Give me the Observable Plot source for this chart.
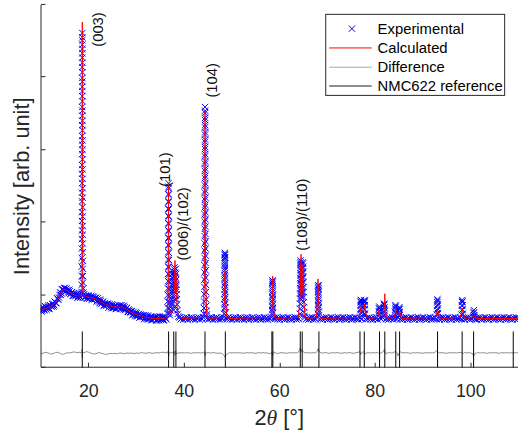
<!DOCTYPE html>
<html><head><meta charset="utf-8">
<script src="https://cdn.jsdelivr.net/npm/d3@7"></script>
<script src="https://cdn.jsdelivr.net/npm/@observablehq/plot@0.6"></script>
<style>
html,body{margin:0;padding:0;background:#fff;overflow:hidden;}
#wrap{position:relative;width:518px;height:437px;overflow:hidden;}
</style></head><body><div id="wrap"></div><script>
// ---------- data (2θ in degrees, intensity in axis units) ----------
const xTicks = [20, 40, 60, 80, 100];
const yTicks = [-1, 0, 1, 2, 3, 4];

// observed pattern: background region 10–36°
const expLowAngle = [
  [10.0,-0.175],[10.25,-0.202],[10.5,-0.178],[10.75,-0.203],[11.0,-0.16],[11.25,-0.173],[11.5,-0.137],[11.75,-0.175],[12.0,-0.138],[12.25,-0.148],[12.5,-0.108],[12.75,-0.13],[13.0,-0.095],[13.25,-0.105],[13.5,-0.04],[13.75,-0.025],[14.0,0.045],[14.25,0.035],[14.5,0.09],[14.75,0.078],[15.0,0.108],[15.25,0.065],[15.5,0.075],[15.75,0.033],[16.0,0.06],[16.25,0.03],[16.5,0.05],[16.75,-0.003],[17.0,0.02],[17.25,-0.005],[17.5,0.02],[17.75,-0.018],[18.0,0.0],[18.25,-0.028],
  [19.0,0.015],[19.25,-0.023],[19.5,-0.005],[19.75,-0.04],[20.0,-0.005],[20.25,-0.03],[20.5,-0.005],[20.75,-0.05],[21.0,-0.02],[21.25,-0.05],[21.5,-0.03],[21.75,-0.072],[22.0,-0.06],[22.25,-0.103],[22.5,-0.075],[22.75,-0.103],[23.0,-0.08],[23.25,-0.135],[23.5,-0.115],[23.75,-0.138],[24.0,-0.11],[24.25,-0.153],[24.5,-0.14],[24.75,-0.173],[25.0,-0.135],[25.25,-0.16],[25.5,-0.135],[25.75,-0.18],[26.0,-0.15],[26.25,-0.167],[26.5,-0.135],[26.75,-0.17],[27.0,-0.15],[27.25,-0.19],[27.5,-0.16],[27.75,-0.188],[28.0,-0.165],[28.25,-0.223],[28.5,-0.205],[28.75,-0.235],[29.0,-0.215],[29.25,-0.26],[29.5,-0.25],[29.75,-0.283],[30.0,-0.245],[30.25,-0.273],[30.5,-0.25],[30.75,-0.298],[31.0,-0.27],[31.25,-0.295],[31.5,-0.27],[31.75,-0.31],[32.0,-0.295],[32.25,-0.328],[32.5,-0.29],[32.75,-0.313],[33.0,-0.285],[33.25,-0.332],[33.5,-0.303],[33.75,-0.324],[34.0,-0.295],[34.25,-0.33],[34.5,-0.31],[34.75,-0.34],[35.0,-0.30],[35.25,-0.32],[35.5,-0.29],[35.75,-0.335],[36.0,-0.305],[36.25,-0.325]
];
const expLowAngleMid = [
  [10.125,-0.221],[10.375,-0.16],[10.625,-0.19],[10.875,-0.146],[11.125,-0.191],[11.375,-0.155],[11.625,-0.183],[11.875,-0.131],[12.125,-0.148],[12.375,-0.118],[12.625,-0.151],[12.875,-0.082],[13.125,-0.10],[13.375,-0.037],[13.625,-0.057],[13.875,0.01],[14.125,0.012],[14.375,0.087],[14.625,0.079],[14.875,0.103],[15.125,0.054],[15.375,0.10],[15.625,0.054],[15.875,0.081],[16.125,0.02],[16.375,0.04],[16.625,-0.004],[16.875,0.033],[17.125,0.002],[17.375,0.017],[17.625,-0.031],[17.875,0.021],[18.125,-0.014],[18.375,0.03],
  [19.125,-0.026],[19.375,0.001],[19.625,-0.037],[19.875,0.003],[20.125,-0.042],[20.375,-0.017],[20.625,-0.055],[20.875,-0.01],[21.125,-0.04],[21.375,-0.03],[21.625,-0.083],[21.875,-0.036],[22.125,-0.081],[22.375,-0.054],[22.625,-0.114],[22.875,-0.091],[23.125,-0.135],[23.375,-0.10],[23.625,-0.131],[23.875,-0.114],[24.125,-0.164],[24.375,-0.116],[24.625,-0.156],[24.875,-0.119],[25.125,-0.172],[25.375,-0.147],[25.625,-0.185],[25.875,-0.14],[26.125,-0.163],[26.375,-0.141],[26.625,-0.185],[26.875,-0.13],[27.125,-0.17],[27.375,-0.14],[27.625,-0.199],[27.875,-0.176],[28.125,-0.221],[28.375,-0.189],[28.625,-0.225],[28.875,-0.215],[29.125,-0.27],[29.375,-0.225],[29.625,-0.266],[29.875,-0.229],[30.125,-0.284],[30.375,-0.261],[30.625,-0.301],[30.875,-0.259],[31.125,-0.287],[31.375,-0.272],[31.625,-0.322],[31.875,-0.272],[32.125,-0.311],[32.375,-0.274],[32.625,-0.326],[32.875,-0.299],[33.125,-0.336],[33.375,-0.292],[33.625,-0.318],[33.875,-0.299],[34.125,-0.345],[34.375,-0.29],[34.625,-0.325],[34.875,-0.285],[35.125,-0.335],[35.375,-0.305],[35.625,-0.34],[35.875,-0.295],[36.125,-0.32]
];

// observed pattern: flat background 36–110°
const expHighAngle = [
  [39.0,-0.30],[39.25,-0.325],[39.5,-0.31],[39.75,-0.33],[40.0,-0.305],[40.25,-0.32],[40.5,-0.298],[40.75,-0.328],[41.0,-0.308],[41.25,-0.322],[41.5,-0.30],[41.75,-0.325],[42.0,-0.31],[42.25,-0.33],[42.5,-0.305],[42.75,-0.32],[43.0,-0.298],[43.25,-0.328],[43.5,-0.308],[43.75,-0.322],[44.0,-0.30],
  [44.75,-0.31],[45.0,-0.33],[45.25,-0.305],[45.5,-0.32],[45.75,-0.298],[46.0,-0.328],[46.25,-0.308],[46.5,-0.322],[46.75,-0.30],[47.0,-0.325],[47.25,-0.31],[47.5,-0.33],[47.75,-0.305],[48.0,-0.32],[48.25,-0.298],
  [48.75,-0.308],[49.0,-0.322],[49.25,-0.30],[49.5,-0.325],[49.75,-0.31],[50.0,-0.33],[50.25,-0.305],[50.5,-0.32],[50.75,-0.298],[51.0,-0.328],[51.25,-0.308],[51.5,-0.322],[51.75,-0.30],[52.0,-0.325],[52.25,-0.31],[52.5,-0.33],[52.75,-0.305],[53.0,-0.32],[53.25,-0.298],[53.5,-0.328],[53.75,-0.308],[54.0,-0.322],[54.25,-0.30],[54.5,-0.325],[54.75,-0.31],[55.0,-0.33],[55.25,-0.305],[55.5,-0.32],[55.75,-0.298],[56.0,-0.328],[56.25,-0.308],[56.5,-0.322],[56.75,-0.30],[57.0,-0.325],[57.25,-0.31],[57.5,-0.33],[57.75,-0.305],[58.0,-0.32],[58.25,-0.298],
  [58.75,-0.308],[59.0,-0.322],[59.25,-0.30],[59.5,-0.325],[59.75,-0.31],[60.0,-0.33],[60.25,-0.305],[60.5,-0.32],[60.75,-0.298],[61.0,-0.328],[61.25,-0.308],[61.5,-0.322],[61.75,-0.30],[62.0,-0.325],[62.25,-0.31],[62.5,-0.33],[62.75,-0.305],[63.0,-0.32],[63.25,-0.298],[63.5,-0.328],[63.75,-0.308],[64.0,-0.322],
  [65.25,-0.30],[65.5,-0.325],[65.75,-0.31],[66.0,-0.33],[66.25,-0.305],[66.5,-0.32],[66.75,-0.298],[67.0,-0.328],[67.25,-0.308],[67.5,-0.322],[67.75,-0.30],
  [68.5,-0.325],[68.75,-0.31],[69.0,-0.33],[69.25,-0.305],[69.5,-0.32],[69.75,-0.298],[70.0,-0.328],[70.25,-0.308],[70.5,-0.322],[70.75,-0.30],[71.0,-0.325],[71.25,-0.31],[71.5,-0.33],[71.75,-0.305],[72.0,-0.32],[72.25,-0.298],[72.5,-0.328],[72.75,-0.308],[73.0,-0.322],[73.25,-0.30],[73.5,-0.325],[73.75,-0.31],[74.0,-0.33],[74.25,-0.305],[74.5,-0.32],[74.75,-0.298],[75.0,-0.328],[75.25,-0.308],[75.5,-0.322],[75.75,-0.30],[76.0,-0.325],[76.25,-0.31],[76.5,-0.33],[76.75,-0.305],
  [77.25,-0.32],[77.5,-0.298],
  [78.0,-0.328],[78.25,-0.308],[78.5,-0.322],[78.75,-0.30],[79.0,-0.325],[79.25,-0.31],[79.5,-0.33],[79.75,-0.305],[80.0,-0.32],[80.25,-0.298],[80.5,-0.328],
  [81.0,-0.308],[81.25,-0.322],[81.5,-0.30],
  [82.25,-0.325],[82.5,-0.31],[82.75,-0.33],[83.0,-0.305],[83.25,-0.32],[83.5,-0.298],[83.75,-0.328],[84.0,-0.308],
  [84.5,-0.322],[84.75,-0.30],
  [85.25,-0.325],[85.5,-0.31],[85.75,-0.33],[86.0,-0.305],[86.25,-0.32],[86.5,-0.298],[86.75,-0.328],[87.0,-0.308],[87.25,-0.322],[87.5,-0.30],[87.75,-0.325],[88.0,-0.31],[88.25,-0.33],[88.5,-0.305],[88.75,-0.32],[89.0,-0.298],[89.25,-0.328],[89.5,-0.308],[89.75,-0.322],[90.0,-0.30],[90.25,-0.325],[90.5,-0.31],[90.75,-0.33],[91.0,-0.305],[91.25,-0.32],[91.5,-0.298],[91.75,-0.328],[92.0,-0.308],[92.25,-0.322],[92.5,-0.30],[92.75,-0.325],
  [93.25,-0.31],[93.5,-0.33],[93.75,-0.305],[94.0,-0.32],[94.25,-0.298],[94.5,-0.328],[94.75,-0.308],[95.0,-0.322],[95.25,-0.30],[95.5,-0.325],[95.75,-0.31],[96.0,-0.33],[96.25,-0.305],[96.5,-0.32],[96.75,-0.298],[97.0,-0.328],[97.25,-0.308],[97.5,-0.322],[97.75,-0.30],[98.0,-0.325],
  [98.5,-0.31],[98.75,-0.33],[99.0,-0.305],[99.25,-0.32],[99.5,-0.298],[99.75,-0.328],[100.0,-0.308],[100.25,-0.322],[100.5,-0.30],
  [100.9,-0.325],[101.0,-0.31],[101.25,-0.33],[101.5,-0.305],[101.75,-0.32],[102.0,-0.298],[102.25,-0.328],[102.5,-0.308],[102.75,-0.322],[103.0,-0.30],[103.25,-0.325],[103.5,-0.31],[103.75,-0.33],[104.0,-0.305],[104.25,-0.32],[104.5,-0.298],[104.75,-0.328],[105.0,-0.308],[105.25,-0.322],[105.5,-0.30],[105.75,-0.325],[106.0,-0.31],[106.25,-0.33],[106.5,-0.305],[106.75,-0.32],[107.0,-0.298],[107.25,-0.328],[107.5,-0.308],[107.75,-0.322],[108.0,-0.30],[108.25,-0.325],[108.5,-0.31],[108.75,-0.33],[109.0,-0.305],[109.25,-0.32],[109.5,-0.298],[109.75,-0.328],[110.0,-0.308]
];

// observed pattern: Bragg reflections
const expPeaks = [
  // (003)
  [18.50,0.05],[18.51,0.15],[18.52,0.27],[18.53,0.4],[18.54,0.52],[18.55,0.65],[18.555,0.78],[18.56,0.9],[18.565,1.03],[18.57,1.15],[18.575,1.3],[18.58,1.42],[18.585,1.55],[18.59,1.68],[18.595,1.8],[18.60,1.95],[18.605,2.08],[18.61,2.2],[18.615,2.35],[18.62,2.48],[18.623,2.6],[18.626,2.75],[18.629,2.88],[18.632,3.0],[18.635,3.15],[18.638,3.28],[18.641,3.4],[18.644,3.52],[18.647,3.62],
  [18.65,3.56],[18.653,3.46],[18.656,3.34],[18.659,3.21],[18.662,3.08],[18.665,2.95],[18.668,2.82],[18.671,2.68],[18.674,2.55],[18.677,2.41],[18.68,2.28],[18.684,2.14],[18.688,2.01],[18.692,1.88],[18.696,1.74],[18.70,1.61],[18.705,1.48],[18.71,1.35],[18.715,1.22],[18.72,1.09],[18.725,0.96],[18.73,0.84],[18.74,0.72],[18.75,0.6],[18.76,0.48],[18.77,0.37],[18.78,0.27],[18.80,0.18],[18.83,0.1],[18.87,0.04],
  // (101)
  [36.50,-0.25],[36.52,-0.17],[36.54,-0.08],[36.56,0.01],[36.58,0.1],[36.60,0.2],[36.61,0.3],[36.62,0.4],[36.63,0.5],[36.64,0.6],[36.65,0.7],[36.66,0.8],[36.67,0.9],[36.675,1.0],[36.68,1.1],[36.685,1.2],[36.69,1.3],[36.695,1.4],[36.70,1.5],[36.703,1.55],
  [36.707,1.48],[36.71,1.39],[36.715,1.29],[36.72,1.19],[36.725,1.09],[36.73,0.99],[36.735,0.89],[36.74,0.79],[36.75,0.69],[36.76,0.59],[36.77,0.49],[36.78,0.39],[36.79,0.29],[36.80,0.19],[36.82,0.09],[36.84,-0.01],[36.86,-0.1],[36.89,-0.18],[36.93,-0.24],[37.0,-0.27],
  // (006)/(102)
  [37.05,-0.2],[37.1,-0.1],[37.15,0.0],[37.2,-0.15],[37.25,0.1],[37.3,-0.05],[37.35,0.2],[37.4,0.05],[37.45,0.3],[37.5,-0.1],[37.55,0.15],[37.6,0.25],[37.65,0.0],[37.7,0.1],[37.75,-0.2],[37.8,0.2],[37.85,0.3],[37.9,0.36],[37.93,0.05],[37.95,0.39],[37.98,0.15],[38.0,0.27],[38.03,-0.05],[38.05,0.1],[38.08,0.32],[38.1,0.2],[38.13,-0.15],[38.15,0.0],[38.18,0.25],[38.2,0.12],[38.23,0.37],[38.26,0.3],[38.3,0.22],[38.33,0.08],[38.36,0.15],[38.4,-0.05],[38.45,0.02],[38.5,-0.12],[38.55,-0.2],[38.65,-0.25],[38.8,-0.29],
  // (104)
  [44.10,-0.25],[44.13,-0.17],[44.16,-0.08],[44.18,0.02],[44.20,0.12],[44.215,0.22],[44.23,0.32],[44.24,0.42],[44.25,0.52],[44.26,0.62],[44.27,0.72],[44.28,0.82],[44.29,0.92],[44.295,1.02],[44.30,1.12],[44.305,1.22],[44.31,1.32],[44.315,1.42],[44.32,1.52],[44.325,1.62],[44.33,1.72],[44.333,1.82],[44.336,1.92],[44.339,2.02],[44.342,2.12],[44.345,2.22],[44.348,2.32],[44.351,2.42],[44.354,2.52],[44.357,2.6],
  [44.36,2.55],[44.363,2.45],[44.366,2.35],[44.369,2.25],[44.372,2.15],[44.375,2.05],[44.378,1.95],[44.381,1.85],[44.385,1.75],[44.39,1.65],[44.395,1.55],[44.40,1.45],[44.405,1.35],[44.41,1.25],[44.415,1.15],[44.42,1.05],[44.43,0.95],[44.44,0.85],[44.45,0.75],[44.46,0.65],[44.47,0.55],[44.48,0.45],[44.49,0.35],[44.50,0.25],[44.52,0.15],[44.54,0.05],[44.57,-0.05],[44.60,-0.14],[44.65,-0.21],[44.72,-0.26],
  // (105)
  [48.40,-0.25],[48.41,-0.18],[48.42,-0.12],[48.43,-0.05],[48.44,0.02],[48.45,0.08],[48.455,0.15],[48.46,0.22],[48.465,0.28],[48.47,0.35],[48.475,0.41],[48.48,0.47],[48.485,0.53],[48.49,0.59],[48.495,0.56],[48.50,0.5],[48.505,0.57],[48.51,0.44],[48.515,0.52],[48.52,0.38],[48.53,0.31],[48.54,0.25],[48.55,0.18],[48.56,0.12],[48.57,0.05],[48.58,-0.02],[48.59,-0.09],[48.61,-0.16],[48.63,-0.23],
  // (107)
  [58.40,-0.26],[58.41,-0.2],[58.42,-0.14],[58.43,-0.08],[58.44,-0.02],[58.45,0.04],[58.46,0.1],[58.47,0.16],[58.48,0.21],[58.49,0.18],[58.50,0.2],[58.51,0.13],[58.52,0.07],[58.53,0.01],[58.54,-0.05],[58.55,-0.11],[58.57,-0.17],[58.59,-0.23],
  // (108)/(110)
  [64.25,-0.25],[64.26,-0.18],[64.27,-0.11],[64.28,-0.04],[64.29,0.03],[64.30,0.1],[64.31,0.17],[64.32,0.24],[64.33,0.31],[64.34,0.38],[64.35,0.44],[64.36,0.485],[64.37,0.46],[64.38,0.42],[64.39,0.35],[64.40,0.28],[64.41,0.21],[64.42,0.14],[64.43,0.07],[64.45,0.0],[64.50,-0.05],[64.55,-0.02],
  [64.60,0.03],[64.65,0.1],[64.70,0.05],[64.75,0.17],[64.78,0.24],[64.80,0.31],[64.82,0.38],[64.84,0.44],[64.86,0.46],[64.88,0.4],[64.90,0.33],[64.92,0.26],[64.94,0.19],[64.96,0.12],[64.98,0.05],[65.00,-0.02],[65.03,-0.09],[65.06,-0.16],[65.10,-0.23],[65.15,-0.28],
  // (113)
  [68.00,-0.25],[68.01,-0.19],[68.02,-0.13],[68.03,-0.07],[68.04,-0.01],[68.05,0.05],[68.06,0.1],[68.07,0.145],[68.08,0.12],[68.09,0.14],[68.10,0.08],[68.11,0.02],[68.12,-0.04],[68.13,-0.1],[68.15,-0.16],[68.17,-0.22],[68.20,-0.27],
  // ~77°
  [76.90,-0.26],[76.92,-0.2],[76.94,-0.14],[76.96,-0.09],[76.98,-0.06],[77.00,-0.08],[77.02,-0.06],[77.04,-0.12],[77.06,-0.18],[77.08,-0.24],
  [77.65,-0.25],[77.67,-0.19],[77.69,-0.13],[77.71,-0.08],[77.73,-0.06],[77.75,-0.09],[77.77,-0.07],[77.79,-0.13],[77.81,-0.19],[77.84,-0.25],
  // ~81–82°
  [80.75,-0.27],[80.78,-0.22],[80.81,-0.18],[80.84,-0.15],[80.87,-0.17],[80.90,-0.21],[80.93,-0.26],
  [81.75,-0.27],[81.78,-0.22],[81.81,-0.17],[81.84,-0.13],[81.87,-0.11],[81.90,-0.12],[81.93,-0.16],[81.96,-0.21],[82.00,-0.26],
  // ~84–85°
  [84.15,-0.27],[84.18,-0.22],[84.21,-0.17],[84.24,-0.13],[84.27,-0.15],[84.30,-0.19],[84.33,-0.24],
  [84.95,-0.27],[84.98,-0.22],[85.01,-0.18],[85.04,-0.16],[85.07,-0.19],[85.10,-0.23],[85.13,-0.27],
  // ~93°, ~98°, ~100.6°
  [92.90,-0.26],[92.93,-0.2],[92.96,-0.14],[92.99,-0.09],[93.02,-0.05],[93.05,-0.07],[93.08,-0.12],[93.11,-0.18],[93.14,-0.24],
  [98.10,-0.26],[98.13,-0.2],[98.16,-0.14],[98.19,-0.09],[98.22,-0.06],[98.25,-0.08],[98.28,-0.13],[98.31,-0.19],[98.34,-0.25],
  [100.55,-0.28],[100.60,-0.24],[100.65,-0.2],[100.70,-0.23],[100.75,-0.27]
];

const calculated = [
  [10,-0.195],[11,-0.175],[12,-0.148],[13,-0.10],[13.5,-0.055],[14,0.02],[14.5,0.08],[15,0.088],[15.5,0.07],[16,0.045],[16.5,0.025],[17,0.01],[17.5,0.0],[18.0,-0.005],[18.4,0.0],[18.55,0.08],[18.6,0.7],[18.645,3.77],[18.69,0.7],[18.75,0.08],[18.9,0.0],
  [19.5,-0.01],[20,-0.02],[20.5,-0.03],[21,-0.03],[21.5,-0.05],[22,-0.065],[22.5,-0.09],[23,-0.105],[23.5,-0.125],[24,-0.13],[24.5,-0.145],[25,-0.15],[25.5,-0.16],[26,-0.16],[26.5,-0.155],[27,-0.155],[27.5,-0.175],[28,-0.19],[28.5,-0.215],[29,-0.235],[29.5,-0.255],[30,-0.26],[30.5,-0.275],[31,-0.28],[31.5,-0.29],[32,-0.30],[32.5,-0.305],[33,-0.31],[34,-0.315],[35,-0.315],[36,-0.31],
  [36.5,-0.28],[36.62,0.2],[36.7,1.525],[36.78,0.2],[36.9,-0.2],[37.3,-0.25],[37.7,-0.2],[37.95,0.15],[38.05,0.485],[38.15,0.05],[38.3,0.3],[38.45,-0.1],[38.7,-0.27],[39.5,-0.315],
  [44.0,-0.3],[44.25,0.3],[44.35,2.55],[44.45,0.3],[44.7,-0.28],[45.2,-0.315],
  [48.2,-0.3],[48.45,0.0],[48.52,0.35],[48.6,0.0],[48.9,-0.3],[49.3,-0.315],
  [58.2,-0.3],[58.45,-0.1],[58.52,0.27],[58.6,-0.1],[58.9,-0.3],[59.3,-0.315],
  [63.9,-0.3],[64.3,0.0],[64.45,0.57],[64.6,0.0],[64.78,0.1],[64.85,0.43],[64.95,0.0],[65.3,-0.3],[65.6,-0.315],
  [67.7,-0.3],[67.92,-0.05],[68.0,0.23],[68.1,-0.05],[68.4,-0.3],[68.7,-0.315],
  [76.6,-0.3],[76.9,-0.22],[77.0,-0.155],[77.1,-0.22],[77.7,-0.2],[77.8,-0.11],[77.9,-0.2],[78.3,-0.3],[78.6,-0.315],
  [80.5,-0.3],[80.8,-0.2],[80.95,-0.28],[81.8,-0.27],[81.95,-0.1],[82.0,0.026],[82.05,-0.1],[82.3,-0.29],[82.6,-0.315],
  [84.0,-0.3],[84.2,-0.23],[84.3,-0.18],[84.4,-0.24],[85.0,-0.28],[85.15,-0.22],[85.3,-0.29],[85.6,-0.315],
  [92.6,-0.3],[92.95,-0.22],[93.05,-0.18],[93.15,-0.22],[93.5,-0.3],[93.8,-0.315],
  [97.8,-0.3],[98.1,-0.22],[98.2,-0.17],[98.3,-0.22],[98.7,-0.3],[99.0,-0.315],
  [100.3,-0.3],[100.6,-0.27],[100.8,-0.3],[101.1,-0.315],[110,-0.315]
];

const difference = [
  [10,-0.80],[10.5,-0.79],[11,-0.78],[11.5,-0.79],[12,-0.805],[12.5,-0.80],[13,-0.785],[13.5,-0.78],[14,-0.795],[14.5,-0.81],[15,-0.80],[15.5,-0.785],[16,-0.79],[16.5,-0.78],[17,-0.775],[17.5,-0.785],[18,-0.78],[18.5,-0.79],[18.6,-0.74],[18.65,-0.86],[18.7,-0.77],
  [19,-0.79],[19.5,-0.77],[20,-0.78],[20.5,-0.795],[21,-0.805],[21.5,-0.80],[22,-0.785],[22.5,-0.79],[23,-0.80],[23.5,-0.81],[24,-0.805],[24.5,-0.795],[25,-0.80],[25.5,-0.795],[26,-0.80],[26.5,-0.79],[27,-0.795],[27.5,-0.80],[28,-0.79],[28.5,-0.795],[29,-0.79],[29.5,-0.80],[30,-0.79],[30.5,-0.795],[31,-0.785],[31.5,-0.79],[32,-0.795],[32.5,-0.785],[33,-0.79],[33.5,-0.795],[34,-0.785],[34.5,-0.79],[35,-0.785],[35.5,-0.78],[36,-0.785],[36.5,-0.79],
  [36.65,-0.76],[36.72,-0.83],[36.8,-0.79],[37.2,-0.78],[37.6,-0.79],[37.9,-0.77],[38.05,-0.82],[38.2,-0.76],[38.4,-0.80],[38.8,-0.79],[39.5,-0.785],[40,-0.79],[40.5,-0.785],[41,-0.79],[41.5,-0.795],[42,-0.785],[42.5,-0.79],[43,-0.785],[43.5,-0.79],[44,-0.785],
  [44.25,-0.77],[44.35,-0.83],[44.45,-0.78],[44.7,-0.79],[45,-0.785],[45.5,-0.79],[46,-0.785],[46.5,-0.79],[47,-0.795],[47.5,-0.79],[48,-0.80],[48.3,-0.82],[48.55,-0.85],[48.8,-0.81],[49.2,-0.795],[49.5,-0.785],[50,-0.79],[50.5,-0.785],[51,-0.79],[51.5,-0.785],[52,-0.79],[52.5,-0.795],[53,-0.785],[53.5,-0.79],[54,-0.785],[54.5,-0.79],[55,-0.795],[55.5,-0.785],[56,-0.79],[56.5,-0.785],[57,-0.79],[57.5,-0.79],
  [58,-0.80],[58.3,-0.78],[58.5,-0.83],[58.7,-0.77],[59,-0.79],[59.5,-0.795],[60,-0.79],[60.5,-0.785],[61,-0.79],[61.5,-0.795],[62,-0.785],[62.5,-0.79],[63,-0.785],[63.5,-0.79],[63.9,-0.78],[64.1,-0.75],[64.3,-0.72],[64.45,-0.78],[64.6,-0.74],[64.85,-0.77],[65.1,-0.78],[65.5,-0.79],[66,-0.785],[66.5,-0.79],[67,-0.785],[67.5,-0.79],[67.8,-0.77],[68.05,-0.73],[68.2,-0.76],[68.5,-0.785],
  [69,-0.79],[69.5,-0.785],[70,-0.79],[70.5,-0.795],[71,-0.785],[71.5,-0.79],[72,-0.785],[72.5,-0.79],[73,-0.795],[73.5,-0.785],[74,-0.79],[74.5,-0.785],[75,-0.79],[75.5,-0.795],[76,-0.785],[76.5,-0.78],[76.8,-0.77],[77.0,-0.81],[77.3,-0.78],[77.6,-0.77],[77.8,-0.81],[78.1,-0.79],[78.5,-0.785],[79,-0.79],[79.5,-0.785],[80,-0.79],[80.5,-0.78],[80.8,-0.80],[81.2,-0.79],[81.6,-0.775],[81.9,-0.74],[82.0,-0.76],[82.2,-0.80],[82.5,-0.79],[83,-0.785],[83.5,-0.79],[83.9,-0.78],[84.2,-0.77],[84.5,-0.78],[84.75,-0.83],[85,-0.79],[85.3,-0.775],[85.6,-0.785],
  [86,-0.79],[86.5,-0.785],[87,-0.79],[87.5,-0.795],[88,-0.785],[88.5,-0.79],[89,-0.785],[89.5,-0.79],[90,-0.795],[90.5,-0.785],[91,-0.79],[91.5,-0.785],[92,-0.79],[92.5,-0.78],[92.9,-0.76],[93.2,-0.78],[93.5,-0.79],[94,-0.785],[94.5,-0.79],[95,-0.795],[95.5,-0.785],[96,-0.79],[96.5,-0.785],[97,-0.79],[97.5,-0.785],[98,-0.78],[98.4,-0.80],[98.7,-0.78],[99,-0.79],[99.5,-0.785],[100,-0.79],[100.4,-0.80],[100.6,-0.84],[100.8,-0.80],[101.2,-0.79],[101.5,-0.785],
  [102,-0.79],[102.5,-0.785],[103,-0.79],[103.5,-0.795],[104,-0.785],[104.5,-0.79],[105,-0.785],[105.5,-0.79],[106,-0.795],[106.5,-0.785],[107,-0.79],[107.5,-0.785],[108,-0.79],[108.5,-0.785],[109,-0.79],[109.5,-0.785],[110,-0.79]
];

// NMC622 reference reflections (2θ); sticks drawn from refBase up to refTop
const nmc622Reference = [18.64, 36.72, 37.8, 38.25, 44.34, 48.6, 58.35, 58.55, 64.3, 64.7, 68.2, 76.8, 77.7, 80.9, 82.0, 84.3, 85.1, 93.05, 98.2, 100.6, 108.9];
const refBase = -1;
const refTop = -0.5;

const peakLabels = [
  {label: "(003)", theta: 21.9, intensity: 3.43},
  {label: "(101)", theta: 36.1, intensity: 1.5},
  {label: "(006)/(102)", theta: 39.75, intensity: 0.485},
  {label: "(104)", theta: 45.85, intensity: 2.73},
  {label: "(108)/(110)", theta: 64.75, intensity: 0.62}
];

const legendItems = ["Experimental", "Calculated", "Difference", "NMC622 reference"];

// ---------- chart ----------
const experimental = expLowAngle.concat(expLowAngleMid, expHighAngle, expPeaks);
const FONT = "'Liberation Sans', Arial, Helvetica, sans-serif";
const AX = "#262626";
const plot = Plot.plot({
  width: 524, height: 437,
  marginLeft: 41, marginRight: 0, marginTop: 5, marginBottom: 65,
  x: {domain: [10, 110]},
  y: {domain: [-1, 4], axis: null},
  style: {fontFamily: FONT, background: "white", overflow: "visible"},
  marks: [
    Plot.dot(experimental, {x: d => d[0], y: d => d[1], symbol: "times", r: 3, stroke: "#0000ff", strokeWidth: 1, clip: true}),
    Plot.line(calculated, {x: d => d[0], y: d => d[1], stroke: "#ff0000", strokeWidth: 1, clip: true}),
    Plot.line(difference, {x: d => d[0], y: d => d[1], stroke: "#8c8c8c", strokeWidth: 1, clip: true}),
    Plot.ruleX(nmc622Reference, {x: d => d, y1: refBase, y2: refTop, stroke: "#000", strokeWidth: 1}),
    Plot.text(peakLabels, {x: "theta", y: "intensity", text: "label", rotate: -90, textAnchor: "start", lineAnchor: "middle", fontSize: 15, fill: "#111"}),
    Plot.axisX({ticks: xTicks, tickSize: 0, tickPadding: 16, fontSize: 18, fill: AX, label: null, tickFormat: d => String(d)})
  ]
});
document.getElementById("wrap").appendChild(plot);

// axes lines & inward ticks drawn with the plot's own scales
const sx = plot.scale("x"), sy = plot.scale("y");
const svg = d3.select(plot);
const g = svg.append("g").attr("stroke", AX).attr("stroke-width", 1).attr("fill", "none");
const x0 = Math.round(sx.apply(10)) + 0.5;
const yBot = Math.round(sy.apply(-1)) - 0.5;
const yTop = sy.apply(4);
g.append("line").attr("x1", x0).attr("x2", 524).attr("y1", yBot).attr("y2", yBot);
g.append("line").attr("x1", x0).attr("x2", x0).attr("y1", yTop).attr("y2", yBot);
for (const t of yTicks) {
  const y = Math.round(sy.apply(t)) - 0.5;
  g.append("line").attr("x1", x0).attr("x2", x0 + 4.5).attr("y1", y).attr("y2", y);
}
for (const t of xTicks) {
  const x = Math.round(sx.apply(t)) + 0.5;
  g.append("line").attr("x1", x).attr("x2", x).attr("y1", yBot).attr("y2", yBot - 4.5);
}

// axis titles
const xl = svg.append("text").attr("x", (sx.apply(10) + sx.apply(110)) / 2).attr("y", 430)
  .attr("text-anchor", "middle").attr("font-size", 22).attr("fill", AX).attr("font-family", FONT);
xl.append("tspan").text("2");
xl.append("tspan").attr("font-style", "italic").attr("font-family", "'Liberation Serif', 'DejaVu Serif', serif").text("θ");
xl.append("tspan").text(" [°]");
svg.append("text").attr("transform", `translate(29,${(sy.apply(-1) + sy.apply(4)) / 2}) rotate(-90)`)
  .attr("text-anchor", "middle").attr("font-size", 22).attr("fill", AX).attr("font-family", FONT)
  .text("Intensity [arb. unit]");

// legend
const lg = svg.append("g").attr("font-family", FONT).attr("text-anchor", "start");
lg.append("rect").attr("x", 329.5).attr("y", 14.5).attr("width", 181).attr("height", 82)
  .attr("fill", "white").attr("stroke", AX).attr("stroke-width", 1);
const rowY = [29, 48, 67.5, 86.5];
legendItems.forEach((name, i) => {
  const y = rowY[i];
  if (i === 0) {
    const s = 3.2;
    lg.append("path").attr("d", `M${356 - s},${y - s}L${356 + s},${y + s}M${356 - s},${y + s}L${356 + s},${y - s}`)
      .attr("stroke", "#0000ff").attr("stroke-width", 1).attr("fill", "none");
  } else {
    const col = i === 1 ? "#ff0000" : i === 2 ? "#a8a8a8" : "#1a1a1a";
    lg.append("line").attr("x1", 333).attr("x2", 376).attr("y1", y + 0.5).attr("y2", y + 0.5)
      .attr("stroke", col).attr("stroke-width", 1);
  }
  lg.append("text").attr("x", 382).attr("y", y).attr("dy", "0.35em").attr("text-anchor", "start")
    .attr("font-size", 15).attr("fill", "#000").text(name);
});
</script></body></html>
